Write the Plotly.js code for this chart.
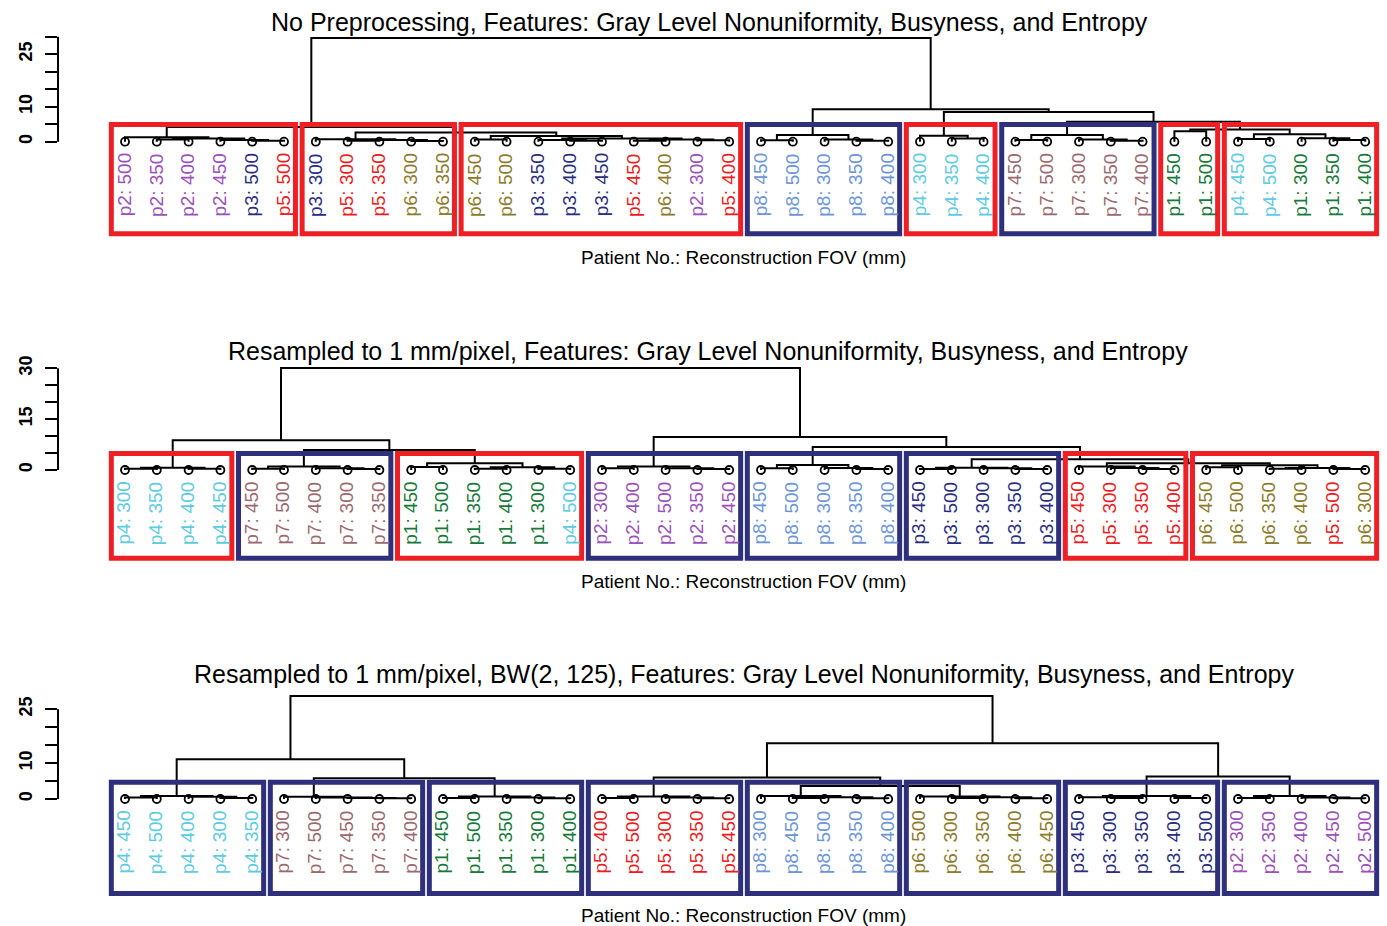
<!DOCTYPE html>
<html><head><meta charset="utf-8">
<script src="https://cdn.plot.ly/plotly-3.0.1.min.js"></script>
<style>html,body{margin:0;padding:0;background:#fff}#chart{width:1387px;height:926px}</style>
</head><body><div id="chart"></div>
<script>
// ---------------- DATA ----------------
const panelTitles = [
  'No Preprocessing, Features: Gray Level Nonuniformity, Busyness, and Entropy',
  'Resampled to 1 mm/pixel, Features: Gray Level Nonuniformity, Busyness, and Entropy',
  'Resampled to 1 mm/pixel, BW(2, 125), Features: Gray Level Nonuniformity, Busyness, and Entropy'
];
const xAxisTitle = 'Patient No.: Reconstruction FOV (mm)';

const labelsTop = ['p2: 500','p2: 350','p2: 400','p2: 450','p3: 500','p5: 500','p3: 300','p5: 300','p5: 350','p6: 300','p6: 350','p6: 450','p6: 500','p3: 350','p3: 400','p3: 450','p5: 450','p6: 400','p2: 300','p5: 400','p8: 450','p8: 500','p8: 300','p8: 350','p8: 400','p4: 300','p4: 350','p4: 400','p7: 450','p7: 500','p7: 300','p7: 350','p7: 400','p1: 450','p1: 500','p4: 450','p4: 500','p1: 300','p1: 350','p1: 400'];
const labelsMid = ['p4: 300','p4: 350','p4: 400','p4: 450','p7: 450','p7: 500','p7: 400','p7: 300','p7: 350','p1: 450','p1: 500','p1: 350','p1: 400','p1: 300','p4: 500','p2: 300','p2: 400','p2: 500','p2: 350','p2: 450','p8: 450','p8: 500','p8: 300','p8: 350','p8: 400','p3: 450','p3: 500','p3: 300','p3: 350','p3: 400','p5: 450','p5: 300','p5: 350','p5: 400','p6: 450','p6: 500','p6: 350','p6: 400','p5: 500','p6: 300'];
const labelsBot = ['p4: 450','p4: 500','p4: 400','p4: 300','p4: 350','p7: 300','p7: 500','p7: 450','p7: 350','p7: 400','p1: 450','p1: 500','p1: 350','p1: 300','p1: 400','p5: 400','p5: 500','p5: 300','p5: 350','p5: 450','p8: 300','p8: 450','p8: 500','p8: 350','p8: 400','p6: 500','p6: 300','p6: 350','p6: 400','p6: 450','p3: 450','p3: 300','p3: 350','p3: 400','p3: 500','p2: 300','p2: 350','p2: 400','p2: 450','p2: 500'];

// dendrograms: [left, right, mergeHeight]; integers are leaf positions
const treeTop = [
  [[0, [[1,2,0.6],[3,[4,5,0.3],0.5],0.9], 1.25],
   [[6, [[7,8,0.3],[9,10,0.2],0.5], 0.7],
    [[11,12,0.6], [[13,[14,15,0.3],0.5], [[16,17,0.3],[18,19,0.4],0.6], 0.9], 1.6], 2.6], 4.2],
  [[[20,21,0.4], [22,[23,24,0.3],0.6], 1.9],
   [[25,[26,27,0.9],1.7],
    [[[28,29,0.5],[30,[31,32,0.3],0.6],1.9],
     [[33,34,3.0],[[35,36,0.8],[37,[38,39,0.5],1.0],2.1],3.5], 5.7], 8.5], 9.3],
  29.6];
const treeMid = [
  [[[0,1,0.4],[2,3,0.4],0.7],
   [[[4,5,0.4],[6,[7,8,0.3],0.5],1.0],
    [[9,10,0.9],[[11,12,0.4],[13,14,0.4],0.8],2.0], 5.9], 8.8],
  [[[15,16,0.5],[17,[18,19,0.3],0.5],1.0],
   [[[20,21,0.5],[22,[23,24,0.3],0.6],1.5],
    [[[25,26,0.3],[27,[28,29,0.3],0.5],0.7],
     [[30,[31,[32,33,0.3],0.6],1.0],
      [[34,35,0.8],[[36,37,0.4],[38,39,0.3],0.6],1.4], 2.0], 3.2], 6.8], 9.7],
  30.1];
const treeBot = [
  [[[0,1,0.4],[2,[3,4,0.3],0.6],0.8],
   [[5,[6,[7,[8,9,0.2],0.3],0.4],0.6],
    [[10,11,0.3],[12,[13,14,0.2],0.4],0.7], 5.8], 11.1],
  [[[[15,16,0.3],[17,[18,19,0.2],0.4],0.7],
    [[20,[[21,22,0.3],[23,24,0.2],0.5],0.8],
     [25,[[26,27,0.3],[28,29,0.2],0.5],0.7], 3.6], 6.0],
   [[[30,[31,32,0.3],0.5],[33,34,0.3],0.8],
    [[35,36,0.3],[37,[38,39,0.2],0.4],0.8], 6.3], 15.5],
  28.7];

// cluster boxes: number of leaves per box, and colour (R = red, B = blue)
const boxSizesTop = [6,5,9,5,3,5,2,5];
const boxColorsTop = ['R','R','R','B','R','B','R','R'];
const boxSizesMid = [4,5,6,5,5,5,4,6];
const boxColorsMid = ['R','B','R','B','B','B','R','R'];
const boxSizesBot = [5,5,5,5,5,5,5,5];
const boxColorsBot = ['B','B','B','B','B','B','B','B'];

const yTicksTop = [0,5,10,15,20,25,30];
const yTickTextTop = ['0','','10','','','25',''];
const yTicksMid = [0,5,10,15,20,25,30];
const yTickTextMid = ['0','','','15','','','30'];
const yTicksBot = [0,5,10,15,20,25];
const yTickTextBot = ['0','','10','','','25'];

const patientColors = {p1:'#17793B', p2:'#9B52B8', p3:'#2B2D7F', p4:'#5ECBE1', p5:'#EC1C24', p6:'#8C7B2C', p7:'#9B6971', p8:'#6D95D8'};
const boxColorMap = {R:'#EE2026', B:'#2E307C'};

// ---------------- LAYOUT GEOMETRY (pixels) ----------------
const W = 1387, H = 926;
const FONT = 'Liberation Sans, Arial, Helvetica, sans-serif';
const leafX0 = 125, leafStep = 31.8, plotLeft = 58, plotRight = 1385;
const panels = [
  {labels: labelsTop, tree: treeTop, sizes: boxSizesTop, colors: boxColorsTop, ticks: yTicksTop, tickText: yTickTextTop,
   y0: 141.7, ppu: 3.5, lo: -27.5, hi: 31, axisTop: 30, boxTop: 4.9, boxBot: -26.3, titleX: 709.5, titleY: 22, xtY: 257},
  {labels: labelsMid, tree: treeMid, sizes: boxSizesMid, colors: boxColorsMid, ticks: yTicksMid, tickText: yTickTextMid,
   y0: 470, ppu: 3.39, lo: -27.5, hi: 31.5, axisTop: 30, boxTop: 4.9, boxBot: -26.0, titleX: 707.5, titleY: 351, xtY: 581},
  {labels: labelsBot, tree: treeBot, sizes: boxSizesBot, colors: boxColorsBot, ticks: yTicksBot, tickText: yTickTextBot,
   y0: 799, ppu: 3.59, lo: -27.5, hi: 29.5, axisTop: 25, boxTop: 4.7, boxBot: -26.3, titleX: 744, titleY: 674, xtY: 915}
];

function walk(node, segs) {
  if (typeof node === 'number') return {x: node, h: 0};
  const a = walk(node[0], segs), b = walk(node[1], segs), h = node[2];
  segs.x.push(a.x, a.x, b.x, b.x, null);
  segs.y.push(a.h, h, h, b.h, null);
  return {x: (a.x + b.x) / 2, h: h};
}

const traces = [], shapes = [], annotations = [];
const layout = {
  width: W, height: H, margin: {l: 0, r: 0, t: 0, b: 0},
  paper_bgcolor: '#fff', plot_bgcolor: '#fff', showlegend: false,
  font: {family: FONT, color: '#000'}
};

panels.forEach((p, k) => {
  const sfx = k === 0 ? '' : String(k + 1);
  const xa = 'x' + sfx, ya = 'y' + sfx;
  const xRange = [(plotLeft - leafX0) / leafStep, (plotRight - leafX0) / leafStep];
  const topPx = p.y0 - p.hi * p.ppu, botPx = p.y0 - p.lo * p.ppu;
  layout['xaxis' + sfx] = {
    domain: [plotLeft / W, plotRight / W], range: xRange, anchor: ya,
    showgrid: false, zeroline: false, showline: false, ticks: '', showticklabels: false, fixedrange: true
  };
  layout['yaxis' + sfx] = {
    domain: [1 - botPx / H, 1 - topPx / H], range: [p.lo, p.hi], anchor: xa,
    showgrid: false, zeroline: false, showline: false,
    ticks: 'outside', ticklen: 12, tickwidth: 2, tickcolor: '#000',
    tickmode: 'array', tickvals: p.ticks, ticktext: p.tickText, tickangle: -90,
    tickfont: {family: FONT, size: 18, color: '#000', weight: 'bold'},
    ticklabelstandoff: 6, fixedrange: true
  };
  // y axis line
  shapes.push({type: 'line', xref: xa + ' domain', yref: ya, x0: 0, x1: 0, y0: 0, y1: p.axisTop,
               line: {color: '#000', width: 2}});
  // dendrogram
  const segs = {x: [], y: []};
  walk(p.tree, segs);
  traces.push({type: 'scatter', mode: 'lines', x: segs.x, y: segs.y, xaxis: xa, yaxis: ya,
               line: {color: '#000', width: 2}, hoverinfo: 'skip', connectgaps: false});
  const idx = p.labels.map((_, i) => i);
  traces.push({type: 'scatter', mode: 'markers', x: idx, y: idx.map(() => 0), xaxis: xa, yaxis: ya,
               marker: {symbol: 'circle-open', size: 8, color: '#000', line: {width: 1.8, color: '#000'}},
               hoverinfo: 'skip', cliponaxis: false});
  // leaf labels
  p.labels.forEach((lab, i) => {
    annotations.push({xref: xa, yref: ya, x: i, y: 0, text: lab, showarrow: false,
      textangle: -90, xanchor: 'center', yanchor: 'top', yshift: -10, xshift: -1,
      font: {family: FONT, size: 19, color: patientColors[lab.split(':')[0]]}});
  });
  // cluster boxes
  let start = 0;
  p.sizes.forEach((n, j) => {
    const end = start + n - 1;
    shapes.push({type: 'rect', xref: xa, yref: ya, x0: start - 0.43, x1: end + 0.36, y0: p.boxBot, y1: p.boxTop,
                 line: {color: boxColorMap[p.colors[j]], width: 5}, fillcolor: 'rgba(0,0,0,0)'});
    start = end + 1;
  });
  // titles
  annotations.push({xref: 'paper', yref: 'paper', x: p.titleX / W, y: 1 - p.titleY / H, text: panelTitles[k],
    showarrow: false, xanchor: 'center', yanchor: 'middle', font: {family: FONT, size: 25, color: '#000'}});
  annotations.push({xref: 'paper', yref: 'paper', x: 743 / W, y: 1 - p.xtY / H, text: xAxisTitle,
    showarrow: false, xanchor: 'center', yanchor: 'middle', font: {family: FONT, size: 19, color: '#000'}});
});

layout.shapes = shapes;
layout.annotations = annotations;
Plotly.newPlot('chart', traces, layout, {displayModeBar: false, staticPlot: true});
</script>
</body></html>
